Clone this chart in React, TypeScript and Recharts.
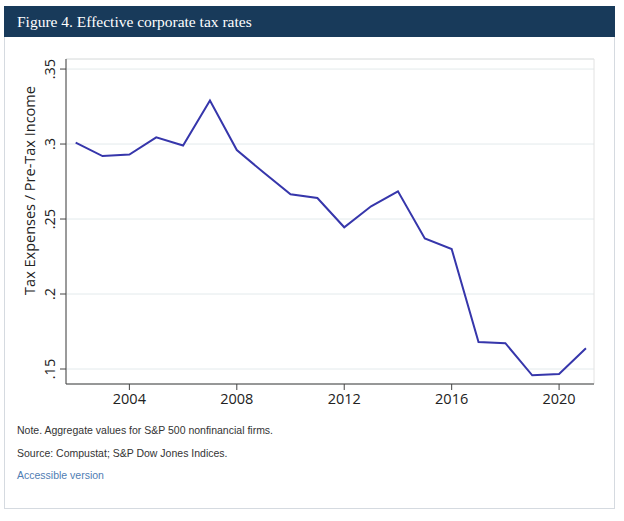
import React from "react";
import { LineChart, Line, XAxis, YAxis, CartesianGrid, ReferenceArea } from "recharts";

const YEARS = [2002, 2003, 2004, 2005, 2006, 2007, 2008, 2009, 2010, 2011, 2012, 2013, 2014, 2015, 2016, 2017, 2018, 2019, 2020, 2021];
const RATES = [0.301, 0.292, 0.293, 0.3045, 0.299, 0.329, 0.296, 0.281, 0.2665, 0.264, 0.2445, 0.2585, 0.2685, 0.237, 0.23, 0.168, 0.1672, 0.1458, 0.1467, 0.1638];
const X_TICKS = [2004, 2008, 2012, 2016, 2020];
const Y_TICKS = [0.15, 0.2, 0.25, 0.3, 0.35];
const X_DOMAIN = [2001.64, 2021.3];
const Y_DOMAIN = [0.14, 0.3567];

const TITLE = "Figure 4. Effective corporate tax rates";
const NOTE = "Note. Aggregate values for S&P 500 nonfinancial firms.";
const SOURCE = "Source: Compustat; S&P Dow Jones Indices.";
const LINK = "Accessible version";
const Y_LABEL = "Tax Expenses / Pre-Tax Income";

const AXIS_FONT = "'Open Sans', sans-serif";
const AXIS_COLOR = "#444";
const TEXT_COLOR = "#222";

// eslint-disable-next-line @typescript-eslint/no-explicit-any
type Any = any;

function fmtRate(v: number) {
  return v.toFixed(2).replace(/^0/, "").replace(/0$/, "");
}

function YTick({ x, y, payload }: Any) {
  return (
    <text x={x} y={y} transform={`rotate(-90 ${x} ${y})`} textAnchor="middle"
      fontSize={14.5} fontFamily={AXIS_FONT} fill={TEXT_COLOR}>
      {fmtRate(payload.value)}
    </text>
  );
}

function YLabel({ viewBox }: Any) {
  const x = viewBox.x + 5;
  const y = viewBox.y + viewBox.height / 2 - 31;
  return (
    <text x={x} y={y} transform={`rotate(-90 ${x} ${y})`} textAnchor="middle"
      fontSize={14.5} fontFamily={AXIS_FONT} fill={TEXT_COLOR}>
      {Y_LABEL}
    </text>
  );
}

export default function App() {
  const data = YEARS.map((year, i) => ({ year, rate: RATES[i] }));

  return (
    <div style={{ position: "absolute", left: 0, top: 0, width: 624, height: 521, background: "#fff" }}>
      <div style={{ position: "absolute", left: 4, top: 6, width: 611, height: 503, border: "1px solid #d5dae0", boxSizing: "border-box" }} />
      <div style={{
        position: "absolute", left: 4, top: 6, width: 611, height: 31, background: "#183a5a",
        color: "#fff", fontFamily: "'Liberation Serif', serif", fontSize: 15.5, lineHeight: "31px",
        paddingLeft: 13, boxSizing: "border-box", whiteSpace: "nowrap",
      }}>
        {TITLE}
      </div>

      <div style={{ position: "absolute", left: 0, top: 0 }}>
        <LineChart width={624} height={420} data={data} margin={{ top: 59, right: 30, bottom: 6, left: 30 }}>
          <CartesianGrid vertical={false} stroke="#e3eaec" />
          <ReferenceArea x1={X_DOMAIN[0]} x2={X_DOMAIN[1]} y1={Y_DOMAIN[0]} y2={Y_DOMAIN[1]}
            fill="none" stroke="#e2e2e2" ifOverflow="visible" />
          <XAxis dataKey="year" type="number" domain={X_DOMAIN} ticks={X_TICKS} height={30}
            tickSize={6} tickMargin={4} stroke={AXIS_COLOR}
            tick={{ fontSize: 14.5, fontFamily: AXIS_FONT, fill: TEXT_COLOR }} />
          <YAxis type="number" domain={Y_DOMAIN} ticks={Y_TICKS} width={36}
            tickSize={6} tickMargin={5} stroke={AXIS_COLOR} tick={<YTick />}
            label={{ content: <YLabel /> }} />
          <Line type="linear" dataKey="rate" stroke="#3636ab" strokeWidth={2} dot={false} isAnimationActive={false} />
        </LineChart>
      </div>

      <div style={{ position: "absolute", left: 17, top: 423, fontFamily: "'Liberation Sans', Arial, sans-serif", fontSize: 10.5, lineHeight: "14px", color: "#333" }}>{NOTE}</div>
      <div style={{ position: "absolute", left: 17, top: 446, fontFamily: "'Liberation Sans', Arial, sans-serif", fontSize: 10.5, lineHeight: "14px", color: "#333" }}>{SOURCE}</div>
      <div style={{ position: "absolute", left: 17, top: 468, fontFamily: "'Liberation Sans', Arial, sans-serif", fontSize: 10.5, lineHeight: "14px", color: "#4f7db3" }}>{LINK}</div>
    </div>
  );
}
